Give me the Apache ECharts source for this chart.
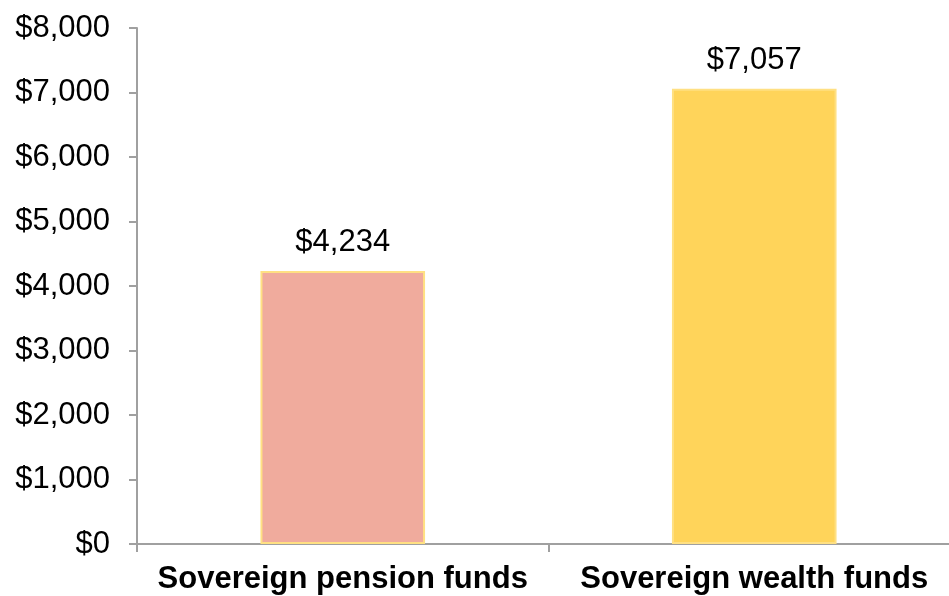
<!DOCTYPE html>
<html>
<head>
<meta charset="utf-8">
<script src="https://cdn.jsdelivr.net/npm/echarts@6/dist/echarts.min.js"></script>
<style>
  html, body { margin: 0; padding: 0; background: #fff; }
  #chart { width: 949px; height: 596px; }
</style>
</head>
<body>
<div id="chart"></div>
<script>
const categories = ["Sovereign pension funds", "Sovereign wealth funds"];
const values = [4234, 7057];
const barColors = ["#F0AB9D", "#FFD45A"];

function money(v) {
  return "$" + Number(v).toLocaleString("en-US");
}

let chart = echarts.init(document.getElementById("chart"));
let option = {
  animation: false,
  grid: {
    left: 137,
    width: 823,
    top: 28,
    bottom: 52,
    outerBoundsMode: "none"
  },
  xAxis: {
    type: "category",
    data: categories,
    axisLine: { lineStyle: { color: "#a0a0a0", width: 2 } },
    axisTick: { show: true, length: 8, lineStyle: { color: "#a0a0a0", width: 2 } },
    axisLabel: {
      interval: 0,
      hideOverlap: false,
      color: "#000",
      fontFamily: "Liberation Sans, Arial",
      fontSize: 31,
      fontWeight: "bold",
      margin: 20
    }
  },
  yAxis: {
    type: "value",
    min: 0,
    max: 8000,
    interval: 1000,
    splitLine: { show: false },
    axisLine: { show: true, lineStyle: { color: "#a0a0a0", width: 2 } },
    axisTick: { show: true, length: 8, lineStyle: { color: "#a0a0a0", width: 2 } },
    axisLabel: {
      color: "#000",
      fontFamily: "Liberation Sans, Arial",
      fontSize: 31,
      margin: 27,
      formatter: money
    }
  },
  series: [{
    type: "bar",
    barWidth: "40%",
    data: values.map(function (v, i) {
      return {
        value: v,
        itemStyle: {
          color: barColors[i],
          borderColor: "#FFE083",
          borderWidth: 2
        }
      };
    }),
    label: {
      show: true,
      position: "top",
      distance: 13,
      color: "#000",
      fontFamily: "Liberation Sans, Arial",
      fontSize: 31,
      formatter: function (p) { return money(p.value); }
    }
  }]
};
chart.setOption(option);
</script>
</body>
</html>
